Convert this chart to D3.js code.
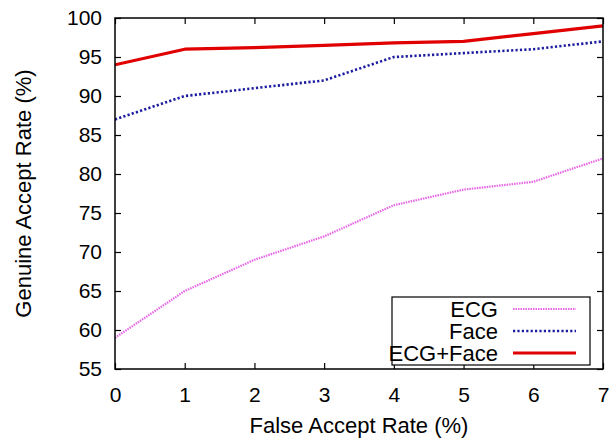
<!DOCTYPE html>
<html><head><meta charset="utf-8">
<script src="https://cdn.jsdelivr.net/npm/d3@7"></script>
<style>body{margin:0;background:#fff}svg{display:block}</style>
</head><body>
<script>
const far = [0,1,2,3,4,5,6,7];
const ecg = [59,65,69,72,76,78,79,82];
const face = [87,90,91,92,95,95.5,96,97];
const fused = [94,96,96.2,96.5,96.8,97,98,99];
const xTicks = [0,1,2,3,4,5,6,7];
const yTicks = [55,60,65,70,75,80,85,90,95,100];
const seriesNames = ["ECG","Face","ECG+Face"];

const W=616,H=438;
const m={l:115,r:13,t:18,b:69};
const svg=d3.select("body").append("svg").attr("width",W).attr("height",H);
const x=d3.scaleLinear().domain([0,7]).range([m.l,W-m.r]);
const y=d3.scaleLinear().domain([55,100]).range([H-m.b,m.t]);
const font="'Liberation Sans', Arial, sans-serif";

const axB=d3.axisBottom(x).tickValues(xTicks).tickFormat(d3.format("d")).tickSizeInner(-6).tickSizeOuter(0).tickPadding(18);
const axL=d3.axisLeft(y).tickValues(yTicks).tickFormat(d3.format("d")).tickSizeInner(-6).tickSizeOuter(0).tickPadding(13);
const axT=d3.axisTop(x).tickValues(xTicks).tickSizeInner(-6).tickSizeOuter(0).tickFormat("");
const axR=d3.axisRight(y).tickValues(yTicks).tickSizeInner(-6).tickSizeOuter(0).tickFormat("");
function style(g){g.select(".domain").remove();g.selectAll("line").attr("stroke","#000").attr("stroke-width",1.2);
 g.selectAll("text").attr("font-family",font).attr("font-size",21).attr("fill","#000");}
svg.append("g").attr("transform",`translate(0,${H-m.b})`).call(axB).call(style);
svg.append("g").attr("transform",`translate(${m.l},0)`).call(axL).call(style);
svg.append("g").attr("transform",`translate(0,${m.t})`).call(axT).call(style);
svg.append("g").attr("transform",`translate(${W-m.r},0)`).call(axR).call(style);

const line=d3.line().x((d,i)=>x(far[i])).y(d=>y(d));
const styles=[
 {data:ecg,color:"#e666e6",w:2.2,dash:"1.5,1"},
 {data:face,color:"#1c1ca0",w:2.6,dash:"2.2,2.2"},
 {data:fused,color:"#e00000",w:3.2,dash:null}
];
svg.append("clipPath").attr("id","c").append("rect").attr("x",m.l).attr("y",m.t).attr("width",W-m.l-m.r).attr("height",H-m.t-m.b);
styles.forEach(s=>{
 const p=svg.append("path").attr("clip-path","url(#c)").attr("d",line(s.data)).attr("fill","none")
  .attr("stroke",s.color).attr("stroke-width",s.w).attr("stroke-linejoin","round");
 if(s.dash)p.attr("stroke-dasharray",s.dash);
});

svg.append("rect").attr("x",m.l).attr("y",m.t).attr("width",W-m.l-m.r).attr("height",H-m.t-m.b)
 .attr("fill","none").attr("stroke","#000").attr("stroke-width",1.5);

const lg=svg.append("g");
lg.append("rect").attr("x",392).attr("y",297).attr("width",198).attr("height",68)
 .attr("fill","#fff").attr("stroke","#000").attr("stroke-width",1.2);
seriesNames.forEach((n,i)=>{
 const yy=309+i*22;
 lg.append("text").attr("x",498).attr("y",yy).attr("dy","0.36em").attr("text-anchor","end")
  .attr("font-family",font).attr("font-size",22).text(n);
 const l=lg.append("line").attr("x1",513).attr("x2",576).attr("y1",yy).attr("y2",yy)
  .attr("stroke",styles[i].color).attr("stroke-width",styles[i].w);
 if(styles[i].dash)l.attr("stroke-dasharray",styles[i].dash);
});

svg.append("text").attr("x",(m.l+W-m.r)/2).attr("y",433).attr("text-anchor","middle")
 .attr("font-family",font).attr("font-size",22).text("False Accept Rate (%)");
svg.append("text").attr("transform",`translate(31,${(m.t+H-m.b)/2}) rotate(-90)`).attr("text-anchor","middle")
 .attr("font-family",font).attr("font-size",22).text("Genuine Accept Rate (%)");
</script>
</body></html>
